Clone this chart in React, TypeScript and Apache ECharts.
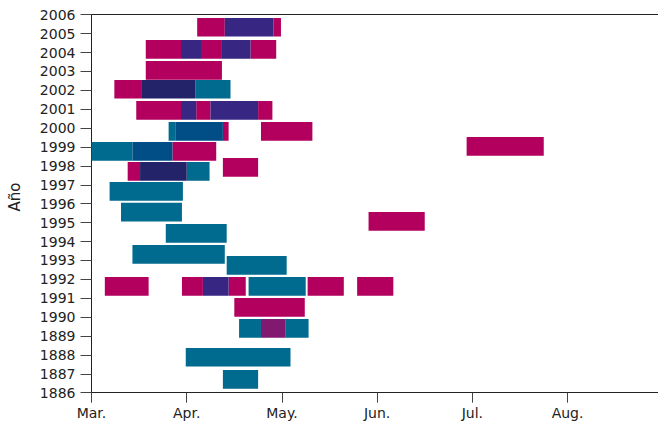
import React, { useEffect, useRef } from "react";
import * as echarts from "echarts";

// Y tick labels (as printed on the reference, bottom to top)
const yTickLabels = [
  "1886", "1887", "1888", "1889", "1990", "1991", "1992", "1993", "1994", "1995",
  "1996", "1997", "1998", "1999", "2000", "2001", "2002", "2003", "2004", "2005", "2006",
];

// X tick labels: month positions 3 (Mar.) .. 8 (Aug.)
const monthTicks = [3, 4, 5, 6, 7, 8];
const monthLabels = ["Mar.", "Apr.", "May.", "Jun.", "Jul.", "Aug."];

// Segments: [top position on the year axis, start month, end month]
const magentaBars: number[][] = [
  [19.83, 4.11, 4.40], [19.83, 4.91, 4.99],
  [18.66, 3.57, 3.94], [18.66, 4.15, 4.37], [18.66, 4.67, 4.94],
  [17.55, 3.57, 4.37],
  [16.55, 3.24, 3.53],
  [15.43, 3.47, 3.94], [15.43, 4.10, 4.25], [15.43, 4.75, 4.90],
  [14.32, 4.38, 4.44], [14.32, 4.78, 5.32],
  [13.26, 3.85, 4.31],
  [13.53, 6.94, 7.75],
  [12.21, 3.38, 3.51],
  [12.42, 4.38, 4.75],
  [9.56, 5.91, 6.50],
  [6.12, 3.14, 3.60], [6.12, 3.95, 4.17], [6.12, 4.44, 4.62], [6.12, 5.27, 5.65], [6.12, 5.79, 6.17],
  [5.01, 4.50, 5.24],
];

const tealBars: number[][] = [
  [16.55, 4.09, 4.46],
  [14.32, 3.81, 3.88],
  [13.26, 3.0, 3.43],
  [12.21, 4.00, 4.24],
  [11.15, 3.19, 3.96],
  [10.05, 3.31, 3.95],
  [8.93, 3.78, 4.42],
  [7.81, 3.43, 4.40],
  [7.23, 4.42, 5.05],
  [6.12, 4.65, 5.25],
  [3.90, 4.55, 4.78], [3.90, 5.04, 5.28],
  [2.37, 3.99, 5.09],
  [1.20, 4.38, 4.75],
];

const purpleBars: number[][] = [
  [19.83, 4.40, 4.91],
  [18.66, 3.94, 4.15], [18.66, 4.37, 4.67],
  [15.43, 3.94, 4.10], [15.43, 4.25, 4.75],
  [6.12, 4.17, 4.44],
];

const navyBars: number[][] = [
  [16.55, 3.53, 4.09],
  [12.21, 3.51, 4.00],
];

const blueBars: number[][] = [
  [14.32, 3.88, 4.38],
  [13.26, 3.43, 3.85],
];

const plumBars: number[][] = [
  [3.90, 4.78, 5.04],
];

const BAR_H = 0.99;
const FONT = "DejaVu Sans";
const TEXT = "#222";

function barSeries(data: number[][], color: string) {
  return {
    type: "custom",
    data,
    encode: { x: [1, 2], y: 0 },
    clip: true,
    renderItem: (params: any, api: any) => {
      const top = api.value(0);
      const s = api.value(1);
      const e = api.value(2);
      const p1 = api.coord([s, top]);
      const p2 = api.coord([e, top - BAR_H]);
      return {
        type: "rect",
        shape: { x: p1[0], y: p1[1], width: p2[0] - p1[0], height: p2[1] - p1[1] },
        style: { fill: color },
      };
    },
  };
}

export default function App() {
  const ref = useRef<HTMLDivElement>(null);
  useEffect(() => {
    if (!ref.current) return;
    const chart = echarts.init(ref.current, null, { renderer: "svg" });
    chart.setOption({
      animation: false,
      backgroundColor: "#fff",
      grid: { left: 91.5, right: 0, top: 14.7, bottom: 29.3, containLabel: false },
      xAxis: [
        {
          type: "value",
          min: 3,
          max: 8.95,
          splitLine: { show: false },
          axisLine: { show: true, lineStyle: { color: "#222", width: 1 } },
          axisTick: { show: true, length: 10, customValues: monthTicks, lineStyle: { color: "#444" } },
          axisLabel: {
            customValues: monthTicks,
            formatter: (v: number) => monthLabels[Math.round(v) - 3] ?? "",
            color: TEXT,
            fontFamily: FONT,
            fontSize: 14,
            margin: 13,
          },
        },
        {
          type: "value",
          position: "top",
          min: 3,
          max: 8.95,
          splitLine: { show: false },
          axisLine: { show: true, lineStyle: { color: "#222", width: 1 } },
          axisTick: { show: false },
          axisLabel: { show: false },
        },
      ],
      yAxis: {
        type: "value",
        min: 0,
        max: 20,
        interval: 1,
        splitLine: { show: false },
        axisLine: { show: true, lineStyle: { color: "#222", width: 1 } },
        axisTick: { show: true, length: 11, lineStyle: { color: "#444" } },
        axisLabel: {
          formatter: (v: number) => yTickLabels[Math.round(v)] ?? "",
          color: TEXT,
          fontFamily: FONT,
          fontSize: 14,
          margin: 16,
        },
      },
      graphic: [
        {
          type: "text",
          x: 14.5,
          y: 197,
          rotation: Math.PI / 2,
          style: {
            text: "Año",
            fill: TEXT,
            font: `15px '${FONT}'`,
            textAlign: "center",
            textVerticalAlign: "middle",
          },
        },
      ],
      series: [
        barSeries(magentaBars, "#b3005e"),
        barSeries(tealBars, "#006b8e"),
        barSeries(purpleBars, "#372682"),
        barSeries(navyBars, "#232369"),
        barSeries(blueBars, "#004e85"),
        barSeries(plumBars, "#811970"),
      ],
    });
    return () => chart.dispose();
  }, []);
  return (
    <div
      ref={ref}
      style={{ position: "fixed", left: 0, top: 0, width: 658, height: 422 }}
    />
  );
}
